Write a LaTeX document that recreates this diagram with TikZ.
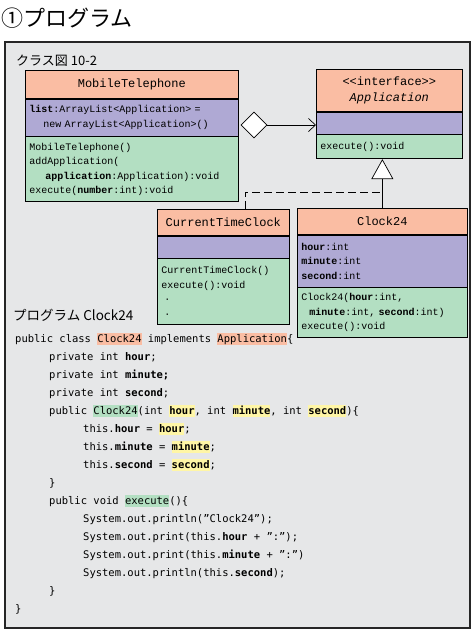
\documentclass[tikz,border=0pt]{standalone}
\usepackage{fontspec}
\usetikzlibrary{arrows.meta, positioning, shapes.geometric}

\newfontfamily\jpfont{Noto Sans CJK JP}
\newfontfamily\umlfont{Liberation Mono}
\newfontfamily\codefont{DejaVu Sans Mono}

\definecolor{headfill}{HTML}{FABDA3}
\definecolor{attrfill}{HTML}{AFA9D4}
\definecolor{opsfill}{HTML}{B3DFC2}
\definecolor{panelfill}{HTML}{E6E7E8}
\definecolor{markfill}{HTML}{FFF6A6}

% colour box behind a word of the listing
\newcommand\hlt[2]{{\setlength{\fboxsep}{0pt}\colorbox{#1}{\rule[-2.5pt]{0pt}{11.5pt}#2}}}

\begin{document}
\begin{tikzpicture}[
  x=1pt, y=1pt,
  panel/.style={draw=black!85, line width=1.2pt, fill=panelfill},
  classhead/.style={draw, line width=0.7pt, fill=headfill, minimum width=#1, minimum height=26pt, inner sep=2pt, align=center, anchor=north west, font=\umlfont\fontsize{12}{16}\selectfont},
  classattr/.style={draw, line width=0.7pt, fill=attrfill, text width=#1, inner xsep=4pt, inner ysep=2pt, align=left, font=\umlfont\fontsize{10}{14.5}\selectfont},
  classops/.style={classattr=#1, fill=opsfill},
  agg/.style={diamond, draw, line width=0.7pt, fill=white, minimum width=26pt, minimum height=26pt, inner sep=0pt},
  assoc/.style={line width=0.7pt, -{Straight Barb[length=7pt, width=13pt]}},
  realize/.style={line width=0.7pt, -{Triangle[fill=white, length=20pt, width=22pt]}},
  dashline/.style={line width=0.7pt, dash pattern=on 8pt off 4pt},
  jptext/.style={anchor=west, inner sep=0pt, font=\jpfont\fontsize{#1}{#1}\selectfont},
  code/.style={anchor=north west, inner sep=0pt, align=left, font=\codefont\fontsize{10.5}{18}\selectfont}
  ]

\useasboundingbox (0,0) rectangle (475,-633);

\node[jptext=22] (title) at (1,-18) {①プログラム};

\draw[panel] (5,-42) rectangle (470,-628);

\node[jptext=13] (diagram) at (16,-61) {クラス図 10-2};

% MobileTelephone
\node[classhead=213pt, minimum height=28pt] (mtHead) at (25,-70) {MobileTelephone};
\node[classattr=205pt, minimum height=37pt, below=0pt of mtHead] (mtAttr) {
  \textbf{list}:ArrayList<Application> =\\
  \hspace*{1.4em}new ArrayList<Application>()
};
\node[classops=205pt, minimum height=65pt, below=0pt of mtAttr] (mtOps) {
  MobileTelephone()\\
  addApplication(\\
  \hspace*{1.6em}\textbf{application}:Application):void\\
  execute(\textbf{number}:int):void
};

% Application
\node[classhead=146pt, minimum height=42pt] (appHead) at (316,-69) {<<interface>>\\\textit{Application}};
\node[classattr=138pt, minimum height=22pt, below=0pt of appHead] (appAttr) {};
\node[classops=138pt, minimum height=24pt, below=0pt of appAttr] (appOps) {execute():void};

% CurrentTimeClock
\node[classhead=132pt] (ctcHead) at (157,-209) {CurrentTimeClock};
\node[classattr=124pt, minimum height=22pt, below=0pt of ctcHead] (ctcAttr) {};
\node[classops=124pt, minimum height=66pt, below=0pt of ctcAttr] (ctcOps) {
  CurrentTimeClock()\\
  execute():void\\
  \hspace*{3pt}·\\
  \hspace*{3pt}·
};

% Clock24
\node[classhead=170pt] (c24Head) at (297,-208) {Clock24};
\node[classattr=162pt, minimum height=52pt, below=0pt of c24Head] (c24Attr) {
  \textbf{hour}:int\\
  \textbf{minute}:int\\
  \textbf{second}:int
};
\node[classops=162pt, minimum height=50pt, below=0pt of c24Attr] (c24Ops) {
  Clock24(\textbf{hour}:int,\\
  \hspace*{0.8em}\textbf{minute}:int,~\textbf{second}:int)\\
  execute():void
};

% relations
\node[agg] (agg) at (254,-125) {};
\draw[assoc] (agg.east) -- (agg.east -| appAttr.west);

\draw[realize] (c24Head.north) -- (c24Head.north |- appOps.south);
\coordinate (bend) at (245,-192);
\draw[dashline] (ctcHead.north -| bend) -- (bend) -- (bend -| c24Head.north);

% listing
\node[jptext=13.5] (listing) at (13,-315) {プログラム Clock24};

\node[code] (src) at (15,-333) {
public class \hlt{headfill}{Clock24} implements \hlt{headfill}{Application}\{\\
\hspace*{34pt}private int \textbf{hour};\\
\hspace*{34pt}private int \textbf{minute;}\\
\hspace*{34pt}private int \textbf{second};\\
\hspace*{34pt}public \hlt{opsfill}{Clock24}(int \hlt{markfill}{\textbf{hour}}, int \hlt{markfill}{\textbf{minute}}, int \hlt{markfill}{\textbf{second}})\{\\
\hspace*{68pt}this.\textbf{hour} = \hlt{markfill}{\textbf{hour}};\\
\hspace*{68pt}this.\textbf{minute} = \hlt{markfill}{\textbf{minute}};\\
\hspace*{68pt}this.\textbf{second} = \hlt{markfill}{\textbf{second}};\\
\hspace*{34pt}\}\\
\hspace*{34pt}public void \hlt{opsfill}{execute}()\{\\
\hspace*{68pt}System.out.println(”Clock24”);\\
\hspace*{68pt}System.out.print(this.\textbf{hour} + ”:”);\\
\hspace*{68pt}System.out.print(this.\textbf{minute} + ”:”)\\
\hspace*{68pt}System.out.println(this.\textbf{second});\\
\hspace*{34pt}\}\\
\}
};

\end{tikzpicture}
\end{document}
